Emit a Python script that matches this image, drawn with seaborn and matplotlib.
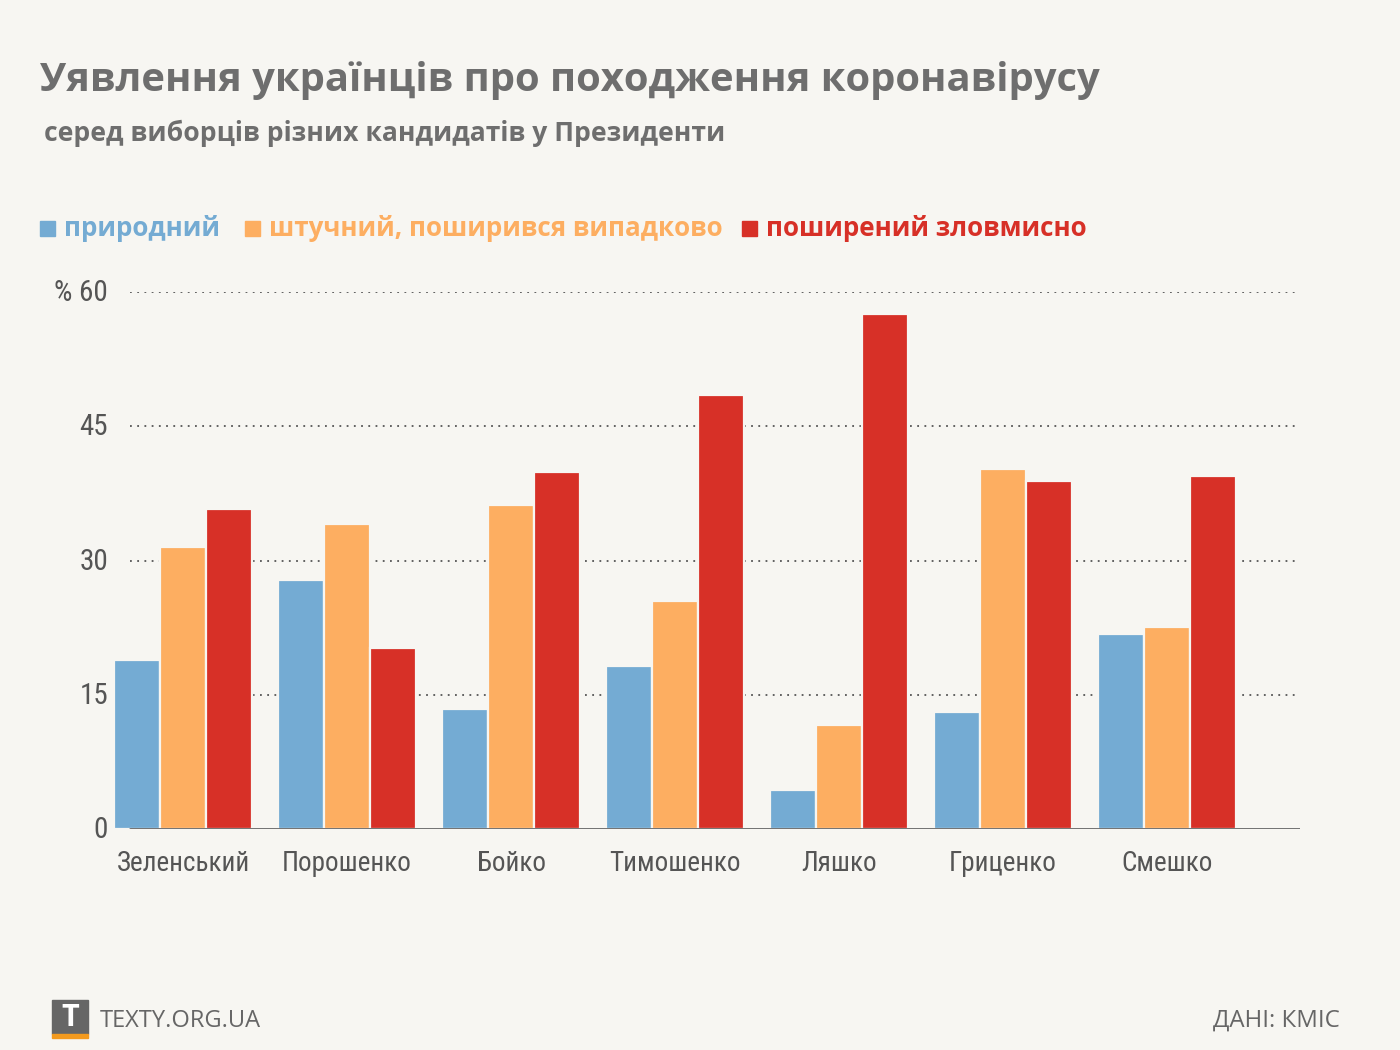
import matplotlib
matplotlib.use("Agg")
import matplotlib.pyplot as plt
import seaborn as sns
import pandas as pd
from matplotlib.patches import Rectangle

candidates = ["Зеленський", "Порошенко", "Бойко", "Тимошенко", "Ляшко", "Гриценко", "Смешко"]
series_names = ["природний", "штучний, поширився випадково", "поширений зловмисно"]
natural = [18.9, 27.8, 13.4, 18.2, 4.4, 13.1, 21.8]
accidental = [31.5, 34.1, 36.2, 25.5, 11.6, 40.2, 22.6]
malicious = [35.8, 20.2, 39.9, 48.5, 57.5, 38.9, 39.4]
yticks = [0, 15, 30, 45, 60]
ytick_labels = ["0", "15", "30", "45", "% 60"]
colors = ["#74abd3", "#fdae61", "#d73027"]

BG = "#f7f6f2"
GRAY = "#6e6e6e"

df = pd.DataFrame({
    "candidate": candidates * 3,
    "series": [series_names[0]] * 7 + [series_names[1]] * 7 + [series_names[2]] * 7,
    "value": natural + accidental + malicious,
})

sns.set_theme(style="white")
plt.rcParams["font.family"] = ["Open Sans", "DejaVu Sans"]

W, H = 1400, 1050
fig = plt.figure(figsize=(14, 10.5), dpi=100)
fig.patch.set_facecolor(BG)
ax = fig.add_axes([115 / W, (H - 829) / H, 1185 / W, 537 / H])
ax.set_facecolor(BG)

sns.barplot(data=df, x="candidate", y="value", hue="series", order=candidates,
            hue_order=series_names, palette=colors, width=0.84, ax=ax,
            edgecolor=BG, linewidth=1.6, saturation=1, legend=False, errorbar=None)

ax.set_xlim(-0.415, 6.811)
ax.set_ylim(0, 60)
for s in ax.spines.values():
    s.set_visible(False)
gx0 = 15 / 1185
for t in yticks[1:]:
    ax.axhline(t, xmin=gx0, xmax=1, color="#555555", lw=1.3, ls=(0, (1, 3)), zorder=0)
ax.axhline(0, xmin=gx0, xmax=1, color="#666666", lw=2, zorder=5)

cond = ["Liberation Sans Narrow", "Roboto Condensed", "DejaVu Sans"]
ax.set_yticks(yticks)
ax.set_yticklabels([])
ax.tick_params(axis="both", length=0)
for t, lab in zip(yticks, ytick_labels):
    fig.text(108 / W, 1 - (830 - t * 537 / 60) / H, lab, ha="right", va="center",
             fontsize=21, color="#555555", family=cond)
ax.set_xticks(range(len(candidates)))
ax.set_xticklabels([])
for i, c in enumerate(candidates):
    ax.text(i, -2.3, c, ha="center", va="top", fontsize=19.5, color="#555555",
            family=cond, transform=ax.transData)
ax.set_xlabel("")
ax.set_ylabel("")

# Title and subtitle
fig.text(40 / W, 1 - 81 / H, "Уявлення українців про походження коронавірусу",
         ha="left", va="center", fontsize=28.8, fontweight="bold", color=GRAY)
fig.text(44 / W, 1 - 133 / H, "серед виборців різних кандидатів у Президенти",
         ha="left", va="center", fontsize=19.1, fontweight="bold", color=GRAY)

# Legend
legend_x = [40, 245, 742]
for x, name, col in zip(legend_x, series_names, colors):
    fig.patches.append(Rectangle((x / W, 1 - 236 / H), 15 / W, 15 / H,
                                 transform=fig.transFigure, color=col))
    fig.text((x + 24) / W, 1 - 229 / H, name, ha="left", va="center",
             fontsize=18.7, fontweight="bold", color=col)

# Footer
fig.patches.append(Rectangle((52 / W, 1 - 1034 / H), 36 / W, 34 / H,
                             transform=fig.transFigure, color="#666666"))
fig.patches.append(Rectangle((52 / W, 1 - 1038 / H), 36 / W, 4 / H,
                             transform=fig.transFigure, color="#f39a1e"))
fig.text(70 / W, 1 - 1018 / H, "T", ha="center", va="center", fontsize=22,
         fontweight="bold", color="white")
fig.text(100 / W, 1 - 1021 / H, "TEXTY.ORG.UA", ha="left", va="center",
         fontsize=17, color="#666666")
fig.text(1340 / W, 1 - 1021 / H, "ДАНІ: КМІС", ha="right", va="center",
         fontsize=17.3, color="#666666")

fig.savefig("out.png", dpi=100, facecolor=BG)
